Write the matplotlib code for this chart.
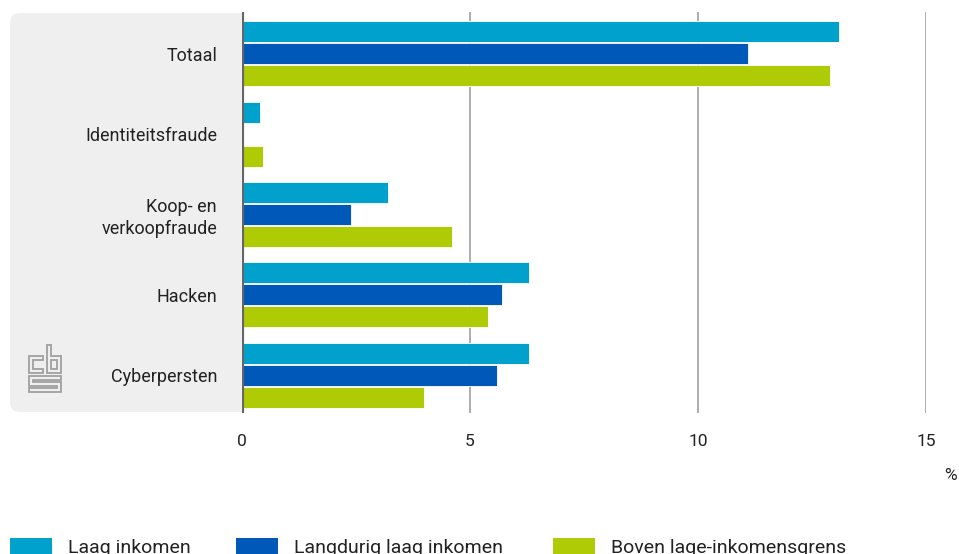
import matplotlib.pyplot as plt
from matplotlib.patches import FancyBboxPatch, Rectangle, Polygon
from matplotlib.transforms import IdentityTransform
import numpy as np

plt.rcParams['font.family'] = ['Roboto', 'DejaVu Sans']

categories = ['Totaal', 'Identiteitsfraude', 'Koop- en\nverkoopfraude', 'Hacken', 'Cyberpersten']
series = ['Laag inkomen', 'Langdurig laag inkomen', 'Boven lage-inkomensgrens']
laag = [13.1, 0.4, 3.2, 6.3, 6.3]
langdurig = [11.1, None, 2.4, 5.7, 5.6]
boven = [12.9, 0.45, 4.6, 5.4, 4.0]
colors = ['#00a1cd', '#0058b8', '#afcb05']
ticks = [0, 5, 10, 15]

W, H = 959, 554
fig = plt.figure(figsize=(W / 100, H / 100), dpi=100)

# grijs vlak achter de labels (in pixels), links afgerond
px = IdentityTransform()
fig.patches.append(FancyBboxPatch((10, H - 412), 232, 399,
                                  boxstyle='round,pad=0,rounding_size=10',
                                  transform=px, facecolor='#efefef',
                                  edgecolor='none', zorder=-1))
fig.patches.append(Rectangle((200, H - 412), 42, 399, transform=px,
                             facecolor='#efefef', edgecolor='none', zorder=-1))

ax = fig.add_axes([242 / W, 1 - 413 / H, (926 - 242) / W, (413 - 12) / H])
ax.patch.set_alpha(0)

y = np.arange(len(categories))
h = 0.262
step = 0.274
for i, (vals, c) in enumerate(zip([laag, langdurig, boven], colors)):
    pos = [yy + (i - 1) * step for yy, v in zip(y, vals) if v is not None]
    vv = [v for v in vals if v is not None]
    ax.barh(pos, vv, height=h, color=c, edgecolor='white', linewidth=0.6, zorder=3)

ax.set_xlim(0, 15)
ax.set_ylim(4.47, -0.52)
ax.set_xticks(ticks)
ax.set_xticklabels([str(t) for t in ticks])
ax.set_yticks(y)
ax.set_yticklabels(categories, ha='right', linespacing=1.25)
ax.tick_params(axis='y', length=0, pad=18, labelsize=13, labelcolor='#222222')
ax.tick_params(axis='x', length=0, pad=15, labelsize=12.5, labelcolor='#222222')
for s in ax.spines.values():
    s.set_visible(False)
for t in ticks[1:]:
    ax.axvline(t, color='#a0a0a0', linewidth=1.2, zorder=1)
ax.axvline(0, color='#666666', linewidth=3, zorder=4)

fig.text(950 / W, 1 - 475 / H, '%', ha='center', va='center', fontsize=12.5, color='#222222')

# legenda
leg_x = [10, 236, 553]
for x0, name, c in zip(leg_x, series, colors):
    fig.patches.append(Rectangle((x0 / W, 0), 42 / W, 16 / H, transform=fig.transFigure,
                                 facecolor=c, edgecolor='none'))
    fig.text((x0 + 58) / W, -3 / H, name, ha='left', va='bottom', fontsize=14, color='#222222')

# cbs logo (benadering)
logo = fig.add_axes([28 / W, 1 - 393 / H, 34 / W, 50 / H])
logo.set_xlim(-1, 33)
logo.set_ylim(48, -2)
logo.axis('off')
g = '#a0a0a0'
shapes = [
    [(0, 11), (14, 11), (14, 15), (4, 15), (4, 24), (14, 24), (14, 28), (0, 28)],
    [(18, 0), (22, 0), (22, 11), (32, 11), (32, 28), (18, 28)],
    [(22, 15), (28, 15), (28, 24), (22, 24)],
    [(0, 31), (32, 31), (32, 35), (4, 35), (4, 37), (32, 37), (32, 47), (0, 47),
     (0, 43), (28, 43), (28, 41), (0, 41)],
]
for pts in shapes:
    logo.add_patch(Polygon(pts, closed=True, fill=False, edgecolor=g, linewidth=1.3))

fig.savefig('out.png', dpi=100)
